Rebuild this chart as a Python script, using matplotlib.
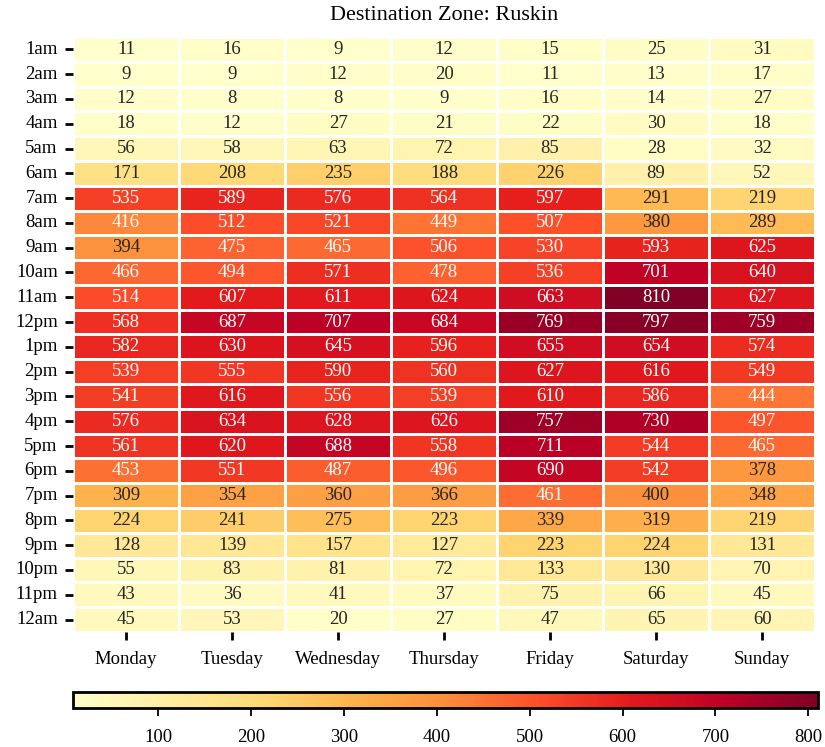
import numpy as np
import matplotlib
matplotlib.use("Agg")
import matplotlib.pyplot as plt
import seaborn as sns

plt.rcParams['font.family'] = ['Liberation Serif', 'DejaVu Serif']

days = ["Monday", "Tuesday", "Wednesday", "Thursday", "Friday", "Saturday", "Sunday"]
hours = ["1am", "2am", "3am", "4am", "5am", "6am", "7am", "8am", "9am", "10am", "11am", "12pm",
         "1pm", "2pm", "3pm", "4pm", "5pm", "6pm", "7pm", "8pm", "9pm", "10pm", "11pm", "12am"]

monday    = [11, 9, 12, 18, 56, 171, 535, 416, 394, 466, 514, 568, 582, 539, 541, 576, 561, 453, 309, 224, 128, 55, 43, 45]
tuesday   = [16, 9, 8, 12, 58, 208, 589, 512, 475, 494, 607, 687, 630, 555, 616, 634, 620, 551, 354, 241, 139, 83, 36, 53]
wednesday = [9, 12, 8, 27, 63, 235, 576, 521, 465, 571, 611, 707, 645, 590, 556, 628, 688, 487, 360, 275, 157, 81, 41, 20]
thursday  = [12, 20, 9, 21, 72, 188, 564, 449, 506, 478, 624, 684, 596, 560, 539, 626, 558, 496, 366, 223, 127, 72, 37, 27]
friday    = [15, 11, 16, 22, 85, 226, 597, 507, 530, 536, 663, 769, 655, 627, 610, 757, 711, 690, 461, 339, 223, 133, 75, 47]
saturday  = [25, 13, 14, 30, 28, 89, 291, 380, 593, 701, 810, 797, 654, 616, 586, 730, 544, 542, 400, 319, 224, 130, 66, 65]
sunday    = [31, 17, 27, 18, 32, 52, 219, 289, 625, 640, 627, 759, 574, 549, 444, 497, 465, 378, 348, 219, 131, 70, 45, 60]

data = np.array([monday, tuesday, wednesday, thursday, friday, saturday, sunday]).T

fig = plt.figure(figsize=(8.25, 7.47), dpi=100)
ax = fig.add_axes([0.0885, 0.154, 0.8995, 0.7965])
cax = fig.add_axes([0.0885, 0.052, 0.9025, 0.021])

sns.heatmap(data, ax=ax, cmap="YlOrRd", annot=True, fmt="d", linewidths=1.0, linecolor="white",
            annot_kws={"fontsize": 13.5}, xticklabels=days, yticklabels=hours,
            cbar_ax=cax, cbar_kws={"orientation": "horizontal"})

ax.set_title("Destination Zone: Ruskin", fontsize=16, pad=12)
ax.tick_params(axis='y', which='major', labelsize=13.5, length=6, width=2, color='black', pad=5)
ax.tick_params(axis='x', which='major', labelsize=13.5, length=6, width=2, color='black', pad=8)
ax.set_yticklabels(hours, rotation=0)
ax.set_xticklabels(days, rotation=0)

cax.tick_params(labelsize=13.5, length=6, width=1.3, pad=9)
cbar = ax.collections[0].colorbar
cbar.outline.set_visible(True)
cbar.outline.set_linewidth(2)
cbar.outline.set_edgecolor("black")
cbar.set_ticks([100, 200, 300, 400, 500, 600, 700, 800])

fig.savefig("out.png", dpi=100)
